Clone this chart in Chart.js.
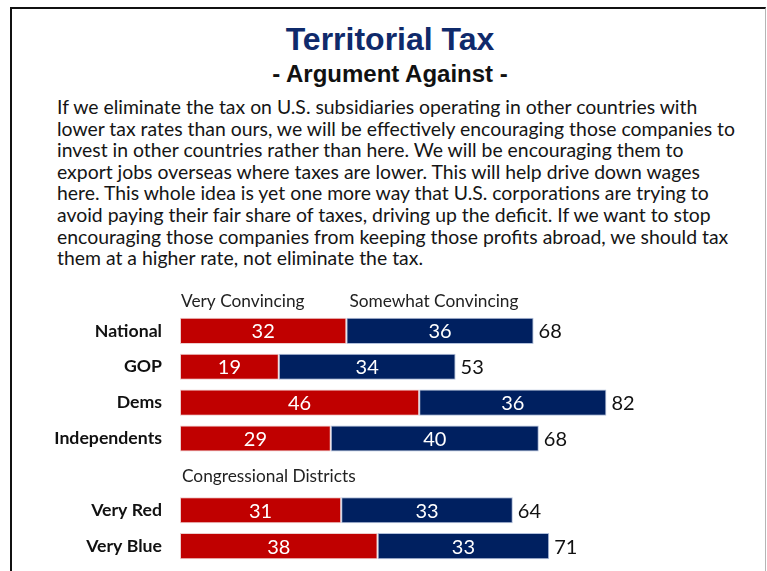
<!DOCTYPE html>
<html>
<head>
<meta charset="utf-8">
<script src="https://cdn.jsdelivr.net/npm/chart.js@4.4.1/dist/chart.umd.min.js"></script>
<style>
  html, body { margin: 0; padding: 0; background: #fff; }
  #page { position: relative; width: 767px; height: 571px; overflow: hidden; }
  #frame {
    position: absolute; left: 10px; top: 7px; width: 753px; height: 600px;
    border-left: 2px solid #111; border-top: 2px solid #111; border-right: 1px solid #b5b5b5;
  }
  .title {
    position: absolute; left: 0; width: 780px; text-align: center;
    font-family: "Liberation Sans", Arial, sans-serif; font-weight: bold; white-space: nowrap;
  }
  #t1 { top: 21px; font-size: 32px; color: #0f2a6b; }
  #t2 { top: 60px; font-size: 24px; color: #111; }
  #para {
    position: absolute; left: 57px; top: 96px;
    font-family: Lato, "Open Sans", sans-serif; font-size: 19.4px; line-height: 21.6px; color: #151515;
  }
  #para div { white-space: nowrap; }
  #chart { position: absolute; left: 0; top: 0; }
</style>
</head>
<body>
<div id="page">
  <div id="frame"></div>
  <div class="title" id="t1">Territorial Tax</div>
  <div class="title" id="t2">- Argument Against -</div>
  <div id="para"></div>
  <canvas id="chart" width="767" height="571"></canvas>
</div>
<script>
// argument text, one entry per printed line
const argumentLines = [
  'If we eliminate the tax on U.S. subsidiaries operating in other countries with',
  'lower tax rates than ours, we will be effectively encouraging those companies to',
  'invest in other countries rather than here. We will be encouraging them to',
  'export jobs overseas where taxes are lower. This will help drive down wages',
  'here. This whole idea is yet one more way that U.S. corporations are trying to',
  'avoid paying their fair share of taxes, driving up the deficit. If we want to stop',
  'encouraging those companies from keeping those profits abroad, we should tax',
  'them at a higher rate, not eliminate the tax.'
];

const groups = ['National', 'GOP', 'Dems', 'Independents', '', 'Very Red', 'Very Blue'];
const veryConvincing = [32, 19, 46, 29, null, 31, 38];
const somewhatConvincing = [36, 34, 36, 40, null, 33, 33];
const totalConvincing = [68, 53, 82, 68, null, 64, 71];
const seriesNames = ['Very Convincing', 'Somewhat Convincing'];
const sectionLabel = 'Congressional Districts';

const RED = '#c00000';
const NAVY = '#002060';
const BODY_FONT = 'Lato, "Open Sans", sans-serif';

const para = document.getElementById('para');
argumentLines.forEach(line => {
  const d = document.createElement('div');
  d.textContent = line;
  para.appendChild(d);
});

// segment values, totals, column headings and the section heading
const barLabels = {
  id: 'barLabels',
  afterDatasetsDraw(chart) {
    const { ctx, scales: { x, y } } = chart;
    ctx.save();
    ctx.font = '20px ' + BODY_FONT;
    ctx.textBaseline = 'middle';

    chart.data.datasets.forEach((ds, di) => {
      chart.getDatasetMeta(di).data.forEach((bar, i) => {
        if (ds.data[i] == null) return;
        ctx.fillStyle = '#fff';
        ctx.textAlign = 'center';
        ctx.fillText(String(ds.data[i]), (bar.base + bar.x) / 2, bar.y + 1);
      });
    });

    ctx.fillStyle = '#111';
    ctx.textAlign = 'left';
    totalConvincing.forEach((t, i) => {
      if (t == null) return;
      const end = veryConvincing[i] + somewhatConvincing[i];
      ctx.fillText(String(t), x.getPixelForValue(end) + 5, y.getPixelForValue(i) + 1);
    });

    ctx.font = '17.3px ' + BODY_FONT;
    ctx.fillStyle = '#222';
    const headY = y.getPixelForValue(0) - 29;
    ctx.fillText(seriesNames[0], x.getPixelForValue(0) + 1, headY);
    ctx.fillText(seriesNames[1], x.getPixelForValue(veryConvincing[0]) + 3, headY);
    ctx.fillText(sectionLabel, x.getPixelForValue(0) + 2, y.getPixelForValue(4) + 2);
    ctx.restore();
  }
};

new Chart(document.getElementById('chart'), {
  type: 'bar',
  data: {
    labels: groups,
    datasets: [
      { label: seriesNames[0], data: veryConvincing, backgroundColor: RED,
        borderColor: 'rgba(235,200,200,0.9)', borderWidth: 1, borderSkipped: false },
      { label: seriesNames[1], data: somewhatConvincing, backgroundColor: NAVY,
        borderColor: 'rgba(170,185,215,0.9)', borderWidth: 1, borderSkipped: false }
    ]
  },
  options: {
    indexAxis: 'y',
    responsive: false,
    animation: false,
    layout: { padding: { top: 313, bottom: 7, right: 67, left: 0 } },
    datasets: { bar: { barPercentage: 0.73, categoryPercentage: 1 } },
    plugins: { legend: { display: false }, tooltip: { enabled: false } },
    scales: {
      x: { stacked: true, min: 0, max: 100, display: false },
      y: {
        stacked: true,
        // fixed label column; drop the label-height padding so rows fill the area
        afterFit(scale) {
          scale.width = 180;
          scale.paddingTop = 0;
          scale.paddingBottom = 0;
        },
        grid: { display: false, drawTicks: false },
        border: { display: false },
        ticks: { color: '#111', padding: 18, font: { family: BODY_FONT, size: 17.7, weight: 'bold' } }
      }
    }
  },
  plugins: [barLabels]
});
</script>
</body>
</html>
